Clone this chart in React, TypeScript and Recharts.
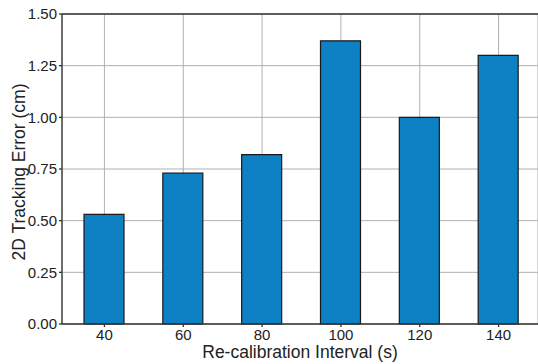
import React from "react";
import {
  Bar,
  BarChart,
  CartesianGrid,
  ReferenceLine,
  XAxis,
  YAxis,
} from "recharts";

const intervals = ["40", "60", "80", "100", "120", "140"];
const trackingError = [0.53, 0.73, 0.82, 1.37, 1.0, 1.3];
const yTicks = [0, 0.25, 0.5, 0.75, 1.0, 1.25, 1.5];

const data = intervals.map((interval, i) => ({
  interval,
  error: trackingError[i],
}));

const FONT = '"Liberation Sans", Arial, sans-serif';
const AXIS = "#333";

const App = () => {
  return (
    <div
      style={{
        position: "fixed",
        left: 0,
        top: 0,
        width: 538,
        height: 364,
        overflow: "hidden",
        background: "#fff",
        fontFamily: FONT,
      }}
    >
      <BarChart
        width={538}
        height={364}
        data={data}
        margin={{ top: 14, right: 0, bottom: 0, left: 0 }}
      >
        <CartesianGrid stroke="#b0b0b0" strokeWidth={1} />
        <XAxis
          dataKey="interval"
          height={40}
          padding={{ left: 3, right: 0 }}
          tickSize={3}
          tickMargin={2}
          stroke={AXIS}
          strokeWidth={1.3}
          tick={{ fill: "#222", fontSize: 15, fontFamily: FONT }}
          label={{
            value: "Re-calibration Interval (s)",
            position: "insideBottom",
            offset: 6,
            fill: "#222",
            fontSize: 17.5,
            fontFamily: FONT,
          }}
        />
        <YAxis
          width={62}
          domain={[0, 1.5]}
          ticks={yTicks}
          tickFormatter={(v: number) => v.toFixed(2)}
          tickSize={3}
          tickMargin={2}
          stroke={AXIS}
          strokeWidth={1.3}
          tick={{ fill: "#222", fontSize: 15, fontFamily: FONT }}
          label={{
            value: "2D Tracking Error (cm)",
            angle: -90,
            position: "center",
            dx: -12,
            dy: 3,
            fill: "#222",
            fontSize: 17.5,
            fontFamily: FONT,
          }}
        />
        <ReferenceLine y={1.5} stroke={AXIS} strokeWidth={1.5} />
        <Bar
          dataKey="error"
          fill="#0e80c4"
          stroke="#1a1a1a"
          strokeWidth={1.2}
          barSize={40}
          isAnimationActive={false}
        />
      </BarChart>
    </div>
  );
};

export default App;
